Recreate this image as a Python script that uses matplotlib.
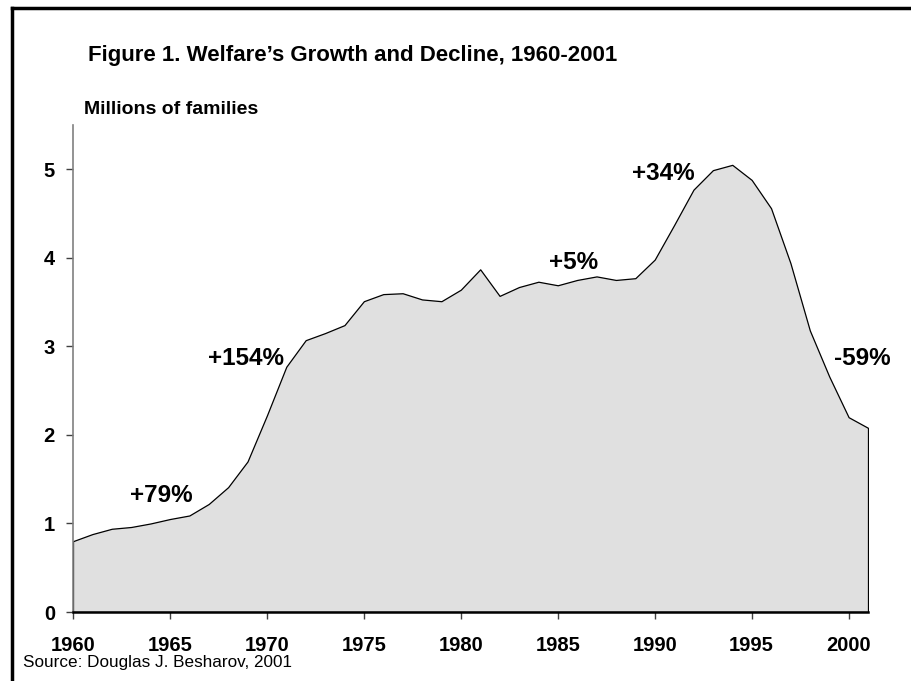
import matplotlib
matplotlib.use("Agg")
import matplotlib.pyplot as plt
from matplotlib.lines import Line2D

plt.rcParams['font.family'] = ['Liberation Sans', 'DejaVu Sans']

years = list(range(1960, 2002))
families = [0.80, 0.88, 0.94, 0.96, 1.00, 1.05, 1.09, 1.22, 1.41, 1.70,
            2.22, 2.77, 3.07, 3.15, 3.24, 3.51, 3.59, 3.60, 3.53, 3.51,
            3.64, 3.87, 3.57, 3.67, 3.73, 3.69, 3.75, 3.79, 3.75, 3.77,
            3.98, 4.37, 4.77, 4.99, 5.05, 4.88, 4.56, 3.94, 3.18, 2.66,
            2.20, 2.08]
xticks = [1960, 1965, 1970, 1975, 1980, 1985, 1990, 1995, 2000]
yticks = [0, 1, 2, 3, 4, 5]
annot_labels = ["+79%", "+154%", "+5%", "+34%", "-59%"]
annot_x = [1964.55, 1968.9, 1985.8, 1990.45, 2000.7]
annot_y = [1.32, 2.86, 3.95, 4.95, 2.86]

title = "Figure 1. Welfare\u2019s Growth and Decline, 1960-2001"
ylabel = "Millions of families"
source = "Source: Douglas J. Besharov, 2001"

fig = plt.figure(figsize=(9.12, 6.81), dpi=100)
ax = fig.add_axes([73/912, 1-612/681, (868-73)/912, (612-125)/681])

ax.fill_between(years, families, 0, facecolor='#e0e0e0', edgecolor='black',
                linewidth=0.9, zorder=2)

ax.set_xlim(1960, 2001)
ax.set_ylim(0, 5.5)
ax.set_xticks(xticks)
ax.set_yticks(yticks)
ax.set_xticklabels([str(t) for t in xticks], fontsize=14.5, fontweight='bold')
ax.set_yticklabels([str(t) for t in yticks], fontsize=14.5, fontweight='bold')

for s in ['top', 'right']:
    ax.spines[s].set_visible(False)
ax.spines['left'].set_color('#808080')
ax.spines['left'].set_linewidth(1.2)
ax.spines['bottom'].set_color('black')
ax.spines['bottom'].set_linewidth(1.8)
ax.spines['bottom'].set_zorder(3)

ax.tick_params(axis='x', direction='out', length=5, width=1, color='#404040', pad=12)
ax.tick_params(axis='y', direction='out', length=5, width=1, color='#404040', pad=8)

for lab, x, y in zip(annot_labels, annot_x, annot_y):
    ax.text(x, y, lab, fontsize=17.5, fontweight='bold', ha='center', va='center', zorder=4)

fig.text(88/912, 1-55/681, title, fontsize=16, fontweight='bold', ha='left', va='center')
fig.text(84/912, 1-110/681, ylabel, fontsize=14, fontweight='bold', ha='left', va='center')
fig.text(23/912, 1-662/681, source, fontsize=12.3, ha='left', va='center')

# frame lines (left and top)
fig.add_artist(Line2D([12.5/912, 12.5/912], [0, 1-7.5/681], transform=fig.transFigure,
                      color='black', linewidth=2.5, solid_capstyle='projecting'))
fig.add_artist(Line2D([12.5/912, 1], [1-7.5/681, 1-7.5/681], transform=fig.transFigure,
                      color='black', linewidth=2.5, solid_capstyle='projecting'))

fig.savefig("out.png", dpi=100)
